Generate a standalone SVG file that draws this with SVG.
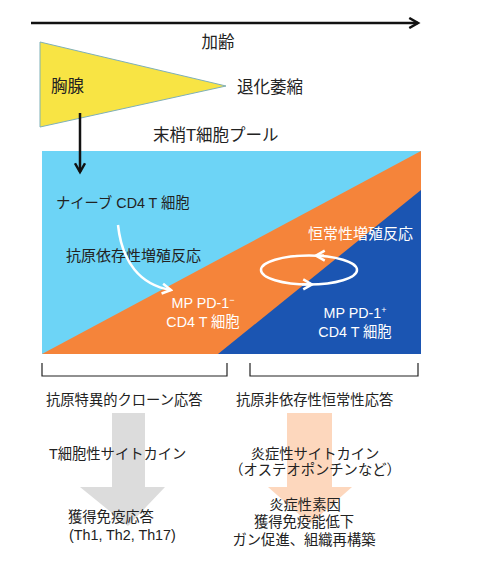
<svg xmlns="http://www.w3.org/2000/svg" width="497" height="568" viewBox="0 0 497 568">
<defs>
<style>
text{font-family:"Liberation Sans","Noto Sans CJK JP",sans-serif;fill:#222;}
.t16{font-size:16.5px;}
.t15{font-size:15px;}
.t14{font-size:14.3px;}
.w{fill:#fff;}
.mid{text-anchor:middle;}
.line{fill:none;stroke:#111;stroke-width:2.5;}
.wline{fill:none;stroke:#fff;stroke-width:2.5;}
</style>
<marker id="bh" viewBox="0 0 10 10" refX="8" refY="5" markerWidth="5" markerHeight="5" orient="auto" markerUnits="strokeWidth">
<path d="M1,1 L8,5 L1,9" fill="none" stroke="#111" stroke-width="2"/>
</marker>
<marker id="wh" viewBox="0 0 10 10" refX="8" refY="5" markerWidth="5" markerHeight="5" orient="auto" markerUnits="strokeWidth">
<path d="M1,1 L8,5 L1,9" fill="none" stroke="#fff" stroke-width="2"/>
</marker>
</defs>

<g id="aging">
<line x1="31" y1="23" x2="418" y2="23" class="line" marker-end="url(#bh)"/>
<text x="218" y="48" class="t16 mid">加齢</text>
</g>

<g id="thymus">
<polygon points="40,42 226,86 40,127" fill="#f8e444" stroke="#7fb0b8" stroke-width="1"/>
<text x="51" y="92" class="t16">胸腺</text>
<text x="237" y="93" class="t16">退化萎縮</text>
</g>

<g id="pool-label">
<text x="153" y="141" class="t16">末梢T細胞プール</text>
</g>

<g id="pool">
<rect x="42" y="151" width="379" height="203" fill="#6dd4f6"/>
<polygon points="42,354 421,151 421,354" fill="#f5843a"/>
<polygon points="218,354 421,190 421,354" fill="#1b55b2"/>
</g>

<g id="naive">
<text x="56" y="208" class="t14">ナイーブ CD4 T 細胞</text>
</g>
<g id="ag-prolif">
<text x="66" y="261" class="t15">抗原依存性増殖反応</text>
</g>
<g id="homeo-prolif">
<text x="308" y="239" class="t15 w">恒常性増殖反応</text>
</g>
<g id="mp-neg">
<text x="203" y="308" class="t14 w mid">MP PD-1<tspan dy="-5" font-size="9">−</tspan></text>
<text x="203" y="327" class="t14 w mid">CD4 T 細胞</text>
</g>
<g id="mp-pos">
<text x="355" y="318" class="t14 w mid">MP PD-1<tspan dy="-5" font-size="9">+</tspan></text>
<text x="355" y="337" class="t14 w mid">CD4 T 細胞</text>
</g>

<g id="connectors">
<line x1="80" y1="113" x2="80" y2="172" class="line" marker-end="url(#bh)"/>
<path d="M118,225 C122,262 140,285 171,290" class="wline" marker-end="url(#wh)"/>
<ellipse cx="309" cy="270" rx="48" ry="14.5" class="wline"/>
<path d="M324,255.6 L316,255.6" class="wline" marker-end="url(#wh)"/>
<path d="M302,284.4 L312,284.4" class="wline" marker-end="url(#wh)"/>
</g>

<g id="bracket-left">
<path d="M42,363 L42,376 L227,376 L227,363" fill="none" stroke="#222" stroke-width="1.2"/>
<text x="46" y="405" class="t14">抗原特異的クローン応答</text>
</g>
<g id="bracket-right">
<path d="M250,363 L250,376 L418,376 L418,363" fill="none" stroke="#222" stroke-width="1.2"/>
<text x="236" y="405" class="t14">抗原非依存性恒常性応答</text>
</g>

<g id="gray-arrow">
<polygon points="112,413 145,413 145,487 165,487 128,526 80,487 112,487" fill="#dcdcdc"/>
<text x="49" y="459" class="t14">T細胞性サイトカイン</text>
<text x="68" y="522" class="t14">獲得免疫応答</text>
<text x="69" y="540" class="t14">(Th1, Th2, Th17)</text>
</g>

<g id="peach-arrow">
<polygon points="287,413 332,413 332,487 352,487 310,524 268,487 287,487" fill="#fdd7bd"/>
<text x="315" y="459" class="t14 mid">炎症性サイトカイン</text>
<text x="315" y="475" class="t14 mid">（オステオポンチンなど）</text>
<text x="305" y="510" class="t14 mid">炎症性素因</text>
<text x="304" y="527" class="t14 mid">獲得免疫能低下</text>
<text x="304" y="545" class="t14 mid">ガン促進、組織再構築</text>
</g>
</svg>
